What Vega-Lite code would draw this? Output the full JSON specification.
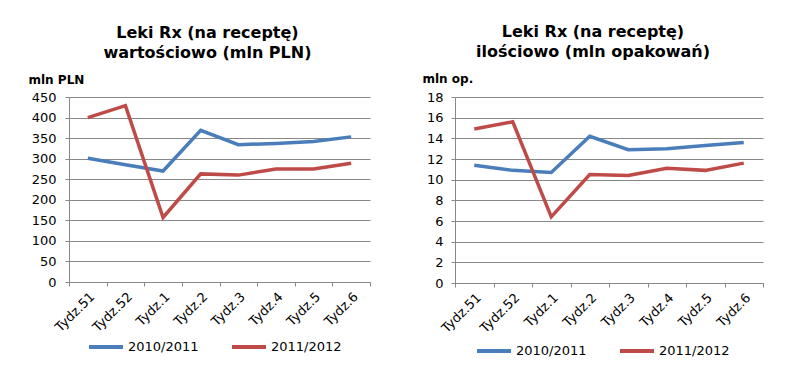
{
  "$schema": "https://vega.github.io/schema/vega-lite/v6.json",
  "padding": {"left": 28, "top": 24, "right": 5, "bottom": 5},
  "background": "white",
  "spacing": 51,
  "config": {
    "font": "DejaVu Sans",
    "view": {"stroke": null},
    "axis": {
      "labelFont": "DejaVu Sans", "labelFontSize": 13, "labelColor": "#000",
      "domainColor": "#888", "tickColor": "#888", "gridColor": "#888", "tickSize": 4
    },
    "legend": {"labelFontSize": 13, "labelColor": "#000", "padding": 0},
    "title": {"fontSize": 16, "fontWeight": "bold", "color": "#000", "lineHeight": 20}
  },
  "datasets": {
    "val": [
      {"week": "Tydz.51", "series": "2010/2011", "v": 301},
      {"week": "Tydz.52", "series": "2010/2011", "v": 285},
      {"week": "Tydz.1", "series": "2010/2011", "v": 270},
      {"week": "Tydz.2", "series": "2010/2011", "v": 369},
      {"week": "Tydz.3", "series": "2010/2011", "v": 334},
      {"week": "Tydz.4", "series": "2010/2011", "v": 337},
      {"week": "Tydz.5", "series": "2010/2011", "v": 342},
      {"week": "Tydz.6", "series": "2010/2011", "v": 353},
      {"week": "Tydz.51", "series": "2011/2012", "v": 400},
      {"week": "Tydz.52", "series": "2011/2012", "v": 429},
      {"week": "Tydz.1", "series": "2011/2012", "v": 157},
      {"week": "Tydz.2", "series": "2011/2012", "v": 263},
      {"week": "Tydz.3", "series": "2011/2012", "v": 260},
      {"week": "Tydz.4", "series": "2011/2012", "v": 275},
      {"week": "Tydz.5", "series": "2011/2012", "v": 275},
      {"week": "Tydz.6", "series": "2011/2012", "v": 289}
    ],
    "qty": [
      {"week": "Tydz.51", "series": "2010/2011", "v": 11.4},
      {"week": "Tydz.52", "series": "2010/2011", "v": 10.9},
      {"week": "Tydz.1", "series": "2010/2011", "v": 10.7},
      {"week": "Tydz.2", "series": "2010/2011", "v": 14.2},
      {"week": "Tydz.3", "series": "2010/2011", "v": 12.9},
      {"week": "Tydz.4", "series": "2010/2011", "v": 13.0},
      {"week": "Tydz.5", "series": "2010/2011", "v": 13.3},
      {"week": "Tydz.6", "series": "2010/2011", "v": 13.6},
      {"week": "Tydz.51", "series": "2011/2012", "v": 14.9},
      {"week": "Tydz.52", "series": "2011/2012", "v": 15.6},
      {"week": "Tydz.1", "series": "2011/2012", "v": 6.4},
      {"week": "Tydz.2", "series": "2011/2012", "v": 10.5},
      {"week": "Tydz.3", "series": "2011/2012", "v": 10.4},
      {"week": "Tydz.4", "series": "2011/2012", "v": 11.1},
      {"week": "Tydz.5", "series": "2011/2012", "v": 10.9},
      {"week": "Tydz.6", "series": "2011/2012", "v": 11.6}
    ]
  },
  "hconcat": [
    {
      "width": 301, "height": 185,
      "title": {"text": ["Leki Rx (na receptę)", "wartościowo (mln PLN)"], "frame": "group", "dx": -12, "offset": 12},
      "data": {"name": "val"},
      "mark": {"type": "line", "strokeWidth": 3.5},
      "encoding": {
        "x": {"field": "week", "type": "nominal", "sort": null,
          "scale": {"type": "band", "paddingInner": 0, "paddingOuter": 0},
          "axis": {"title": null, "labelAngle": -45, "tickBand": "extent", "labelPadding": 4}},
        "y": {"field": "v", "type": "quantitative",
          "scale": {"domain": [0, 450], "nice": false},
          "axis": {"title": "mln PLN", "titleAngle": 0, "titleAlign": "left", "titleBaseline": "alphabetic",
            "titleX": -41, "titleY": -14, "titleFontSize": 12, "titleFontWeight": "bold",
            "values": [0,50,100,150,200,250,300,350,400,450], "labelPadding": 9}},
        "color": {"field": "series", "type": "nominal",
          "scale": {"domain": ["2010/2011", "2011/2012"], "range": ["#4A7EBB", "#BE4B48"]},
          "legend": {"title": null, "orient": "none", "legendX": 18, "legendY": 231, "direction": "horizontal", "symbolType": "stroke",
            "symbolSize": 1156, "symbolStrokeWidth": 4, "columnPadding": 25, "labelOffset": 3}}
      }
    },
    {
      "width": 308, "height": 186,
      "title": {"text": ["Leki Rx (na receptę)", "ilościowo (mln opakowań)"], "frame": "group", "dx": -16, "offset": 12},
      "data": {"name": "qty"},
      "mark": {"type": "line", "strokeWidth": 3.5},
      "encoding": {
        "x": {"field": "week", "type": "nominal", "sort": null,
          "scale": {"type": "band", "paddingInner": 0, "paddingOuter": 0},
          "axis": {"title": null, "labelAngle": -45, "tickBand": "extent", "labelPadding": 4}},
        "y": {"field": "v", "type": "quantitative",
          "scale": {"domain": [0, 18], "nice": false},
          "axis": {"title": "mln op.", "titleAngle": 0, "titleAlign": "left", "titleBaseline": "alphabetic",
            "titleX": -33, "titleY": -15, "titleFontSize": 12, "titleFontWeight": "bold",
            "values": [0,2,4,6,8,10,12,14,16,18], "labelPadding": 8}},
        "color": {"field": "series", "type": "nominal",
          "scale": {"domain": ["2010/2011", "2011/2012"], "range": ["#4A7EBB", "#BE4B48"]},
          "legend": {"title": null, "orient": "none", "legendX": 20, "legendY": 235, "direction": "horizontal", "symbolType": "stroke",
            "symbolSize": 1156, "symbolStrokeWidth": 4, "columnPadding": 25, "labelOffset": 3}}
      }
    }
  ],
  "resolve": {"scale": {"color": "independent"}, "legend": {"color": "independent"}}
}
